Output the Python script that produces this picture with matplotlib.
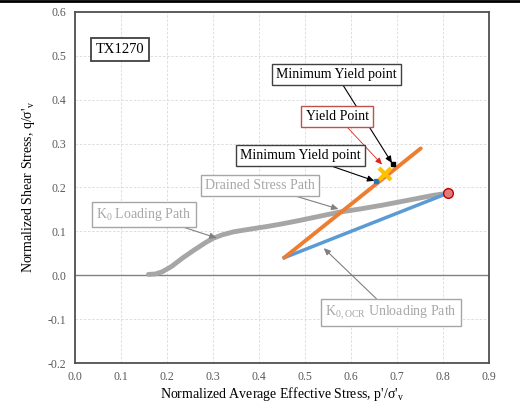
import numpy as np
from matplotlib import pyplot as plt

# K0 loading path (gray)
load_p = [0.160, 0.175, 0.190, 0.210, 0.235, 0.260, 0.285, 0.300, 0.320, 0.345,
          0.380, 0.417, 0.450, 0.489, 0.530, 0.576, 0.620, 0.670, 0.720, 0.779, 0.811]
load_q = [0.002, 0.003, 0.008, 0.020, 0.040, 0.058, 0.075, 0.084, 0.092, 0.099,
          0.105, 0.111, 0.117, 0.125, 0.134, 0.144, 0.151, 0.160, 0.170, 0.182, 0.187]

# K0,OCR unloading path (blue)
unload_p = [0.811, 0.455]
unload_q = [0.187, 0.040]

# drained stress path (orange)
drain_p = [0.455, 0.752]
drain_q = [0.040, 0.289]

# yield points
yield_pt = (0.674, 0.230)
minyield_lo = (0.654, 0.214)
minyield_hi = (0.691, 0.253)

plt.rcParams['font.family'] = ['Liberation Serif', 'DejaVu Serif']

fig = plt.figure(figsize=(5.2, 4.08), dpi=100)
ax = fig.add_axes([0.144, 0.110, 0.796, 0.861])

ax.set_xlim(0, 0.9)
ax.set_ylim(-0.2, 0.6)
ax.set_xticks(np.arange(0, 0.91, 0.1))
ax.set_yticks(np.arange(-0.2, 0.61, 0.1))
ax.set_xticklabels(["%.1f" % v for v in np.arange(0, 0.91, 0.1)])
ax.set_yticklabels(["%.1f" % v for v in np.arange(-0.2, 0.61, 0.1)])
ax.tick_params(length=0, labelsize=8.5, colors='#595959', pad=6)
ax.grid(True, color='#d9d9d9', linestyle=(0, (3, 2)), linewidth=0.6)
ax.set_axisbelow(True)
for s in ax.spines.values():
    s.set_color('#505050')
    s.set_linewidth(1.3)
ax.axhline(0, color='#808080', linewidth=1.0, zorder=1)

ax.plot(load_p, load_q, color='#a6a6a6', linewidth=3.5, solid_capstyle='round', zorder=3)
ax.plot(unload_p, unload_q, color='#5b9bd5', linewidth=2.5, zorder=4)
ax.plot(drain_p, drain_q, color='#ed7d31', linewidth=2.8, solid_capstyle='round', zorder=4)
ax.plot(load_p[-1], load_q[-1], 'o', ms=7, mfc='#e07b7b', mec='#c00000', mew=1.0, zorder=6)
ax.plot(*yield_pt, marker='x', ms=9, mew=3, color='#ffc000', zorder=7)
ax.plot(*minyield_lo, 's', ms=3.5, color='#2e75b6', zorder=6)
ax.plot(*minyield_hi, 's', ms=3.5, color='black', zorder=6)

ax.set_xlabel("Normalized Average Effective Stress, p'/σ'$_\\mathregular{v}$", fontsize=10, labelpad=1)
ax.set_ylabel("Normalized Shear Stress, q/σ'$_\\mathregular{v}$", fontsize=10, labelpad=8)

ax.text(0.098, 0.515, "TX1270", fontsize=10.5, ha='center', va='center',
        bbox=dict(boxstyle='square,pad=0.35', fc='white', ec='#404040', lw=1.3))

def label(text, xy, xytext, ec, tc, ac, lw=0.8):
    ax.annotate(text, xy=xy, xytext=xytext, fontsize=10, color=tc, ha='center', va='center',
                bbox=dict(boxstyle='square,pad=0.3', fc='white', ec=ec, lw=1.0),
                arrowprops=dict(arrowstyle='-|>,head_length=0.4,head_width=0.18', color=ac,
                                lw=lw, shrinkA=0, shrinkB=1), zorder=8)

label("Minimum Yield point", minyield_hi, (0.568, 0.458), '#404040', 'black', 'black')
label("Yield Point", (0.670, 0.250), (0.570, 0.362), '#c0504d', 'black', '#e02020', lw=0.6)
label("Minimum Yield point", minyield_lo, (0.491, 0.273), '#404040', 'black', 'black')
label("Drained Stress Path", (0.576, 0.150), (0.402, 0.205), '#a6a6a6', '#a6a6a6', '#808080')
label("K$_\\mathregular{0}$ Loading Path", (0.311, 0.084), (0.150, 0.139), '#a6a6a6', '#a6a6a6', '#808080')
label("K$_\\mathregular{0,OCR}$ Unloading Path", (0.539, 0.064), (0.687, -0.085), '#a6a6a6', '#a6a6a6', '#808080')

fig.add_artist(plt.Line2D([0, 1], [0.998, 0.998], color='black', linewidth=2, transform=fig.transFigure))

fig.savefig("out.png", dpi=100)
